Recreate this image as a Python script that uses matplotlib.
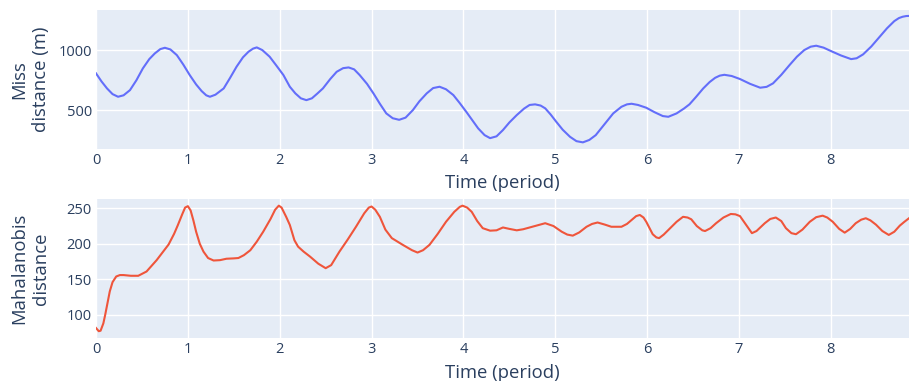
import matplotlib
matplotlib.use("Agg")
import matplotlib.pyplot as plt

# miss distance (top panel)
t_miss = [0.00, 0.06, 0.12, 0.18, 0.24, 0.30, 0.37, 0.44, 0.51, 0.58, 0.64, 0.70,
          0.75, 0.81, 0.88, 0.95, 1.02, 1.09, 1.15, 1.20, 1.24, 1.30, 1.39, 1.46,
          1.53, 1.60, 1.66, 1.71, 1.75, 1.81, 1.89, 1.96, 2.04, 2.11, 2.17, 2.23,
          2.29, 2.35, 2.41, 2.47, 2.55, 2.62, 2.69, 2.75, 2.81, 2.87, 2.95, 3.02,
          3.09, 3.16, 3.23, 3.30, 3.37, 3.45, 3.52, 3.60, 3.67, 3.74, 3.81, 3.89,
          3.96, 4.03, 4.10, 4.16, 4.23, 4.29, 4.36, 4.43, 4.50, 4.58, 4.66, 4.72,
          4.78, 4.84, 4.89, 4.95, 5.01, 5.08, 5.16, 5.23, 5.30, 5.37, 5.44, 5.53,
          5.63, 5.72, 5.78, 5.83, 5.90, 5.99, 6.08, 6.17, 6.23, 6.32, 6.40, 6.46,
          6.53, 6.61, 6.68, 6.74, 6.79, 6.84, 6.92, 7.01, 7.12, 7.23, 7.30, 7.37,
          7.46, 7.55, 7.63, 7.71, 7.78, 7.84, 7.92, 8.00, 8.11, 8.22, 8.28, 8.35,
          8.44, 8.53, 8.61, 8.69, 8.74, 8.78, 8.82, 8.85]
miss = [807, 740, 682, 635, 613, 625, 668, 750, 848, 925, 972, 1008,
        1019, 1005, 958, 880, 793, 715, 660, 625, 613, 630, 682, 770,
        862, 940, 986, 1012, 1022, 1000, 945, 875, 793, 696, 641, 600,
        585, 600, 640, 682, 760, 820, 850, 856, 840, 793, 720, 641,
        555, 475, 435, 422, 440, 503, 575, 641, 685, 696, 675, 627,
        560, 489, 415, 351, 295, 270, 285, 337, 400, 461, 515, 545,
        550, 540, 517, 465, 406, 340, 281, 245, 235, 255, 295, 380,
        475, 530, 550, 555, 545, 522, 485, 453, 447, 475, 515, 550,
        610, 682, 735, 770, 788, 795, 785, 760, 720, 688, 695, 724,
        795, 876, 945, 1000, 1028, 1036, 1020, 992, 955, 925, 932, 964,
        1030, 1110, 1180, 1240, 1265, 1276, 1282, 1283]

# mahalanobis distance (bottom panel)
t_maha = [0.00, 0.03, 0.05, 0.08, 0.10, 0.13, 0.15, 0.18, 0.22, 0.26, 0.30, 0.38,
          0.46, 0.55, 0.66, 0.79, 0.85, 0.89, 0.94, 0.97, 1.00, 1.03, 1.06, 1.09,
          1.13, 1.17, 1.22, 1.28, 1.35, 1.42, 1.50, 1.55, 1.61, 1.68, 1.75, 1.82,
          1.90, 1.95, 1.99, 2.02, 2.07, 2.11, 2.16, 2.20, 2.26, 2.33, 2.42, 2.50,
          2.56, 2.65, 2.74, 2.83, 2.92, 2.97, 3.00, 3.04, 3.09, 3.15, 3.22, 3.34,
          3.44, 3.50, 3.56, 3.63, 3.72, 3.81, 3.90, 3.96, 3.99, 4.04, 4.09, 4.15,
          4.21, 4.29, 4.36, 4.43, 4.50, 4.58, 4.65, 4.72, 4.80, 4.89, 4.98, 5.07,
          5.13, 5.19, 5.26, 5.34, 5.40, 5.46, 5.54, 5.61, 5.72, 5.78, 5.83, 5.88,
          5.92, 5.96, 5.99, 6.03, 6.06, 6.10, 6.13, 6.18, 6.25, 6.32, 6.39, 6.44,
          6.48, 6.54, 6.60, 6.63, 6.69, 6.75, 6.83, 6.91, 6.96, 7.01, 7.08, 7.14,
          7.19, 7.28, 7.34, 7.40, 7.46, 7.51, 7.57, 7.62, 7.69, 7.77, 7.84, 7.91,
          7.96, 8.02, 8.09, 8.15, 8.21, 8.27, 8.33, 8.38, 8.43, 8.49, 8.56, 8.63,
          8.69, 8.75, 8.80, 8.85]
maha = [81.5, 77, 77.7, 88, 100, 120, 133, 146, 154, 156, 156, 155,
        155, 161, 177, 199, 214, 226, 242, 251, 253, 247, 233, 217,
        200, 189, 180, 176.5, 177, 179, 179.5, 180, 184, 191, 203, 217,
        235, 248, 253.7, 251, 238, 226.5, 205, 196, 189, 182, 172, 165.7,
        170, 189, 206, 224, 243, 251, 252.5, 248, 238, 220, 208, 198.5,
        191, 187.7, 191, 198.5, 214, 231, 245, 252, 253.7, 251, 245, 232,
        222, 218.5, 219, 223, 221, 219, 220.5, 223, 226, 229, 225, 217,
        213, 211.5, 216, 224, 228, 230, 227, 224, 224, 228, 233.6, 239,
        240.6, 237, 231, 221, 213.5, 209, 208, 213, 222, 231, 238, 237,
        234.5, 225, 219, 218, 222, 229, 237, 242, 241.5, 239, 226, 215,
        218, 229, 235, 237, 232, 222, 215, 213.5, 220, 231, 237.5, 239.6,
        237, 231, 221, 215.7, 221, 229, 234, 236, 233, 227, 218, 212.5,
        217, 225.6, 231, 236]

x_ticks = [0, 1, 2, 3, 4, 5, 6, 7, 8]

plt.rcParams['font.family'] = ['Open Sans', 'DejaVu Sans']
txt = '#2a3f5f'

fig = plt.figure(figsize=(9.09, 3.81), dpi=100)
ax1 = fig.add_axes([96/909, 1 - 149/381, 813/909, 139/381])
ax2 = fig.add_axes([96/909, 1 - 338.3/381, 813/909, 139.6/381])


def style(ax):
    ax.set_facecolor('#E5ECF6')
    for s in ax.spines.values():
        s.set_visible(False)
    ax.grid(True, color='white', linewidth=1)
    ax.set_axisbelow(True)
    ax.tick_params(length=0, labelsize=10.5, labelcolor=txt, pad=3)
    ax.set_xticks(x_ticks)
    ax.set_xlim(0, 8.85)


style(ax1)
ax1.plot(t_miss, miss, color='#636EFA', linewidth=1.5)
ax1.set_ylim(180, 1332)
ax1.set_yticks([500, 1000])
ax1.set_xlabel('Time (period)', fontsize=13.3, color=txt)
ax1.set_ylabel('Miss\ndistance (m)', fontsize=13.3, color=txt)
ax1.xaxis.set_label_coords(0.5, -0.245)
ax1.xaxis.label.set_va('center')
ax1.yaxis.set_label_coords(-0.081, 0.5)
ax1.yaxis.label.set_va('center')

style(ax2)
ax2.plot(t_maha, maha, color='#EF553B', linewidth=1.5)
ax2.set_ylim(67, 263.5)
ax2.set_yticks([100, 150, 200, 250])
ax2.set_xlabel('Time (period)', fontsize=13.3, color=txt)
ax2.set_ylabel('Mahalanobis\ndistance', fontsize=13.3, color=txt)
ax2.xaxis.set_label_coords(0.5, -0.249)
ax2.xaxis.label.set_va('center')
ax2.yaxis.set_label_coords(-0.081, 0.5)
ax2.yaxis.label.set_va('center')

fig.savefig('out.png', dpi=100)
